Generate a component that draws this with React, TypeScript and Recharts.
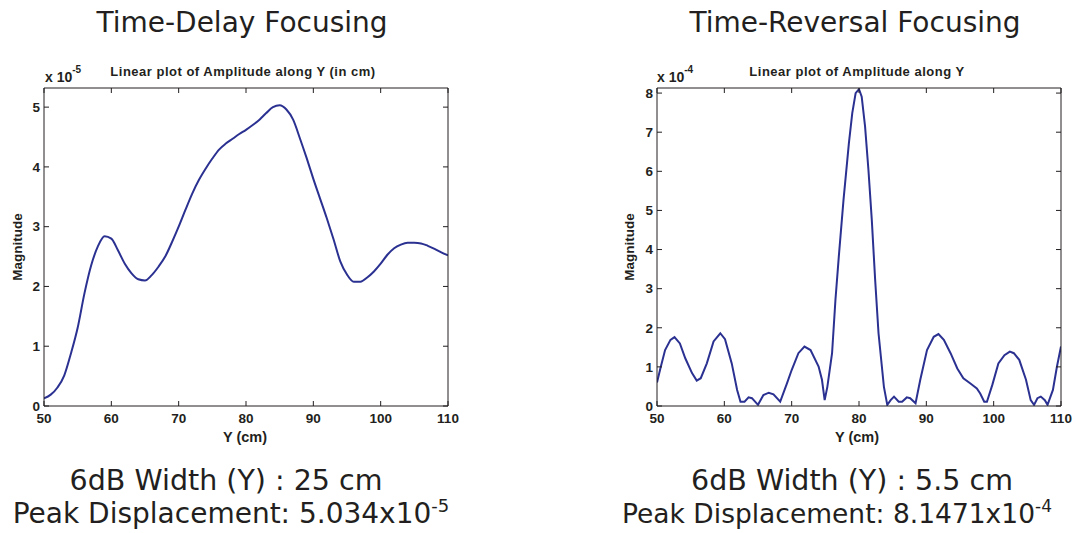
import React from 'react';
import { LineChart, Line, XAxis, YAxis } from 'recharts';

// Time-delay focusing: amplitude along Y (cm), magnitude in units of 1e-5
const TD_Y = [
    50, 51, 52, 53, 54, 55, 56, 57, 58, 59, 60, 61, 62, 63, 64, 65, 66, 67, 68, 69, 70,
    71, 72, 73, 74, 75, 76, 77, 78, 79, 80, 81, 82, 83, 84, 85, 86, 87, 88, 89, 90,
    91, 92, 93, 94, 95, 96, 97, 98, 99, 100, 101, 102, 103, 104, 105, 106, 107, 108, 109, 110
];
const TD_MAG = [
    0.13, 0.19, 0.31, 0.51, 0.88, 1.31, 1.88, 2.35, 2.67, 2.84, 2.8, 2.6, 2.38, 2.22, 2.12, 2.1, 2.19, 2.33, 2.5, 2.74, 3.0,
    3.28, 3.55, 3.78, 3.97, 4.14, 4.29, 4.39, 4.47, 4.55, 4.62, 4.7, 4.79, 4.9, 5.0, 5.03, 4.96, 4.79, 4.48, 4.15, 3.8,
    3.47, 3.14, 2.79, 2.42, 2.2, 2.08, 2.08, 2.15, 2.25, 2.38, 2.53, 2.64, 2.7, 2.73, 2.73, 2.72, 2.68, 2.63, 2.57, 2.52
];

// Time-reversal focusing: amplitude along Y (cm), magnitude in units of 1e-4
const TR_Y = [
    50, 50.5, 51.2, 52, 52.6, 53.4, 54.2, 55.2, 55.9, 56.5, 57.4, 58.4, 59.4, 60.1, 61.1, 61.9, 62.4, 63, 63.6, 64.1,
    65, 65.8, 66.6, 67.3, 68.3, 69.3, 70, 71, 71.9, 72.8, 74, 74.5, 74.9, 75.3, 76, 76.5, 77, 77.7, 78.5, 79, 79.5,
    80, 80.4, 80.9, 81.4, 81.9, 82.4, 82.9, 83.7, 84.2, 84.7, 85.2, 85.9, 86.4, 87.1, 87.6, 88.4, 89.1, 90.1, 91.1,
    91.8, 92.6, 93.6, 94.6, 95.5, 96.5, 97.5, 98, 98.6, 99, 99.8, 100.7, 101.6, 102.4, 103, 103.8, 104.8, 105.5, 106,
    106.5, 107, 107.6, 108, 108.8, 109.4, 110
];
const TR_MAG = [
    0.6, 0.96, 1.43, 1.69, 1.76, 1.6, 1.22, 0.84, 0.65, 0.71, 1.09, 1.65, 1.86, 1.71, 1.09, 0.41, 0.11, 0.11, 0.22, 0.2,
    0.03, 0.28, 0.34, 0.3, 0.11, 0.58, 0.92, 1.35, 1.52, 1.43, 1.01, 0.67, 0.15, 0.49, 1.35, 2.71, 3.82, 5.27, 6.72, 7.49, 8.0,
    8.1, 7.91, 7.15, 6.04, 4.76, 3.22, 1.86, 0.49, 0.03, 0.15, 0.24, 0.11, 0.11, 0.22, 0.2, 0.07, 0.67, 1.43, 1.77,
    1.84, 1.69, 1.35, 0.96, 0.71, 0.58, 0.45, 0.32, 0.11, 0.11, 0.54, 1.09, 1.3, 1.39, 1.35, 1.18, 0.67, 0.15, 0.03,
    0.2, 0.24, 0.15, 0.03, 0.41, 1.01, 1.52
];

const X_TICKS = [50, 60, 70, 80, 90, 100, 110];
const TD_TICKS = [0, 1, 2, 3, 4, 5];
const TR_TICKS = [0, 1, 2, 3, 4, 5, 6, 7, 8];

const INK = '#231f20';
const LINE_COLOR = '#2b3191';
const SMALL_FONT = "'Liberation Sans', Arial, sans-serif";
const BIG_FONT = "'DejaVu Sans', Verdana, sans-serif";
const TICK_FONT = { fill: INK, fontSize: 13.5, fontWeight: 700, fontFamily: SMALL_FONT };

function zip(xs: number[], ys: number[]) {
    return xs.map((y, i) => ({ y, mag: ys[i] }));
}

interface PanelProps {
    left: number;
    width: number;
    marginLeft: number;
    marginRight: number;
    data: { y: number; mag: number }[];
    yMax: number;
    yTicks: number[];
    curve: 'monotone' | 'linear';
}

const noTick = () => <g />;

function Panel({ left, width, marginLeft, marginRight, data, yMax, yTicks, curve }: PanelProps) {
    const axisLine = { stroke: INK, strokeWidth: 1 };
    return (
        <div style={{ position: 'absolute', left, top: 60 }}>
            <LineChart
                width={width}
                height={400}
                data={data}
                margin={{ top: 27, right: marginRight - 1, bottom: 24, left: marginLeft }}
            >
                <XAxis
                    xAxisId="b"
                    dataKey="y"
                    type="number"
                    domain={[50, 110]}
                    ticks={X_TICKS}
                    height={30}
                    tickSize={-5}
                    tickMargin={12}
                    axisLine={axisLine}
                    tickLine={axisLine}
                    tick={TICK_FONT}
                    allowDataOverflow
                />
                <XAxis
                    xAxisId="t"
                    orientation="top"
                    dataKey="y"
                    type="number"
                    domain={[50, 110]}
                    ticks={X_TICKS}
                    height={1}
                    tickSize={-5}
                    axisLine={axisLine}
                    tickLine={axisLine}
                    tick={noTick}
                    allowDataOverflow
                />
                <YAxis
                    yAxisId="l"
                    type="number"
                    domain={[0, yMax]}
                    ticks={yTicks}
                    width={30}
                    tickSize={-5}
                    tickMargin={9}
                    axisLine={axisLine}
                    tickLine={axisLine}
                    tick={TICK_FONT}
                    allowDataOverflow
                />
                <YAxis
                    yAxisId="r"
                    orientation="right"
                    type="number"
                    domain={[0, yMax]}
                    ticks={yTicks}
                    width={1}
                    tickSize={-5}
                    axisLine={axisLine}
                    tickLine={axisLine}
                    tick={noTick}
                    allowDataOverflow
                />
                {/* invisible twin so the top/right frame axes are in use */}
                <Line
                    xAxisId="t"
                    yAxisId="r"
                    type={curve}
                    dataKey="mag"
                    stroke="none"
                    dot={false}
                    activeDot={false}
                    isAnimationActive={false}
                />
                <Line
                    xAxisId="b"
                    yAxisId="l"
                    type={curve}
                    dataKey="mag"
                    stroke={LINE_COLOR}
                    strokeWidth={2}
                    dot={false}
                    isAnimationActive={false}
                />
            </LineChart>
        </div>
    );
}

export default function App() {
    return (
        <div style={{ position: 'absolute', left: 0, top: 0, width: 1078, height: 533, background: '#fff' }}>
            <Panel left={0} width={460} marginLeft={14} marginRight={12} data={zip(TD_Y, TD_MAG)} yMax={5.32} yTicks={TD_TICKS} curve="monotone" />
            <Panel left={600} width={478} marginLeft={27} marginRight={17} data={zip(TR_Y, TR_MAG)} yMax={8.13} yTicks={TR_TICKS} curve="linear" />
            <svg width={1078} height={533} style={{ position: 'absolute', left: 0, top: 0, pointerEvents: 'none' }}>
                <g fill={INK} fontFamily={BIG_FONT} textAnchor="middle">
                    <text x={242} y={32} fontSize={28}>Time-Delay Focusing</text>
                    <text x={855} y={32} fontSize={28}>Time-Reversal Focusing</text>
                    <text x={226} y={490} fontSize={28.5}>6dB Width (Y) : 25 cm</text>
                    <text x={231} y={523} fontSize={28}>Peak Displacement: 5.034x10<tspan dy={-11} fontSize={18}>-5</tspan></text>
                    <text x={852} y={490} fontSize={28.5}>6dB Width (Y) : 5.5 cm</text>
                    <text x={837} y={523} fontSize={26.5}>Peak Displacement: 8.1471x10<tspan dy={-11} fontSize={17}>-4</tspan></text>
                </g>
                <g fill={INK} fontFamily={SMALL_FONT} fontWeight={700}>
                    <text x={243} y={76} fontSize={13} letterSpacing={0.5} textAnchor="middle">Linear plot of Amplitude along Y (in cm)</text>
                    <text x={857} y={76} fontSize={13} letterSpacing={0.5} textAnchor="middle">Linear plot of Amplitude along Y</text>
                    <text x={45} y={82} fontSize={14}>x 10<tspan dy={-9} fontSize={10}>-5</tspan></text>
                    <text x={657} y={82} fontSize={14}>x 10<tspan dy={-9} fontSize={10}>-4</tspan></text>
                    <text x={245} y={442} fontSize={14.5} textAnchor="middle">Y (cm)</text>
                    <text x={857} y={442} fontSize={14.5} textAnchor="middle">Y (cm)</text>
                    <text transform="translate(22,247) rotate(-90)" fontSize={13.5} textAnchor="middle">Magnitude</text>
                    <text transform="translate(634,247) rotate(-90)" fontSize={13.5} textAnchor="middle">Magnitude</text>
                </g>
            </svg>
        </div>
    );
}
